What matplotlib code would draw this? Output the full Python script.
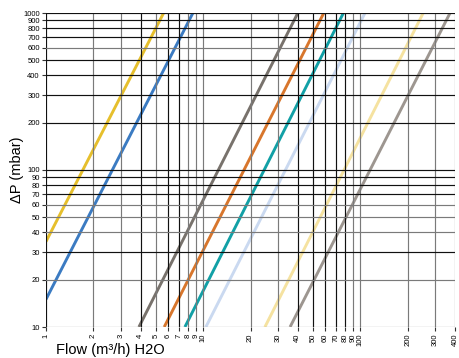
import matplotlib
matplotlib.use('Agg')
import matplotlib.pyplot as plt
from matplotlib.ticker import FixedLocator, NullLocator

plt.rcParams['font.family'] = ['Liberation Sans', 'DejaVu Sans']

# each curve: start point and end point (flow m3/h, dP mbar)
curve_flow = [
    [1.0, 5.6],
    [1.0, 8.6],
    [3.9, 40.0],
    [5.65, 58.5],
    [7.65, 78.0],
    [10.4, 107.0],
    [24.7, 251.0],
    [35.7, 372.0],
]
curve_dp = [
    [35, 1000],
    [15, 1000],
    [10, 1000],
    [10, 1000],
    [10, 1000],
    [10, 1000],
    [10, 1000],
    [10, 1000],
]
curve_colors = ['#e6bf2c', '#3b7bc2', '#78726c', '#d8762c', '#12a0a6',
                '#cad9f0', '#f5e2a0', '#9d9690']

x_ticks = [1, 2, 3, 4, 5, 6, 7, 8, 9, 10, 20, 30, 40, 50, 60, 70, 80, 90,
           100, 200, 300, 400]
y_ticks = [10, 20, 30, 40, 50, 60, 70, 80, 90, 100, 200, 300, 400, 500,
           600, 700, 800, 900, 1000]
x_gray = {2, 3, 5, 8, 9, 10, 20, 30, 90, 100, 200, 300, 400}
y_gray = {10, 20, 40, 50, 60, 600}

fig = plt.figure(figsize=(4.59, 3.58), dpi=100)
ax = fig.add_axes([46 / 459, 1 - 327 / 358, 409 / 459, 314 / 358])

for xs, ys, c in zip(curve_flow, curve_dp, curve_colors):
    ax.plot(xs, ys, color=c, lw=2.1, solid_capstyle='butt', zorder=1)

# grid drawn above the curves, as in the original
for x in x_ticks:
    ax.axvline(x, color='#7a7a7a' if x in x_gray else '#111111', lw=0.85, zorder=2)
for y in y_ticks:
    ax.axhline(y, color='#7a7a7a' if y in y_gray else '#111111', lw=0.85, zorder=2)

ax.set_xscale('log')
ax.set_yscale('log')
ax.set_xlim(1, 400)
ax.set_ylim(10, 1000)
ax.xaxis.set_major_locator(FixedLocator(x_ticks))
ax.yaxis.set_major_locator(FixedLocator(y_ticks))
ax.xaxis.set_minor_locator(NullLocator())
ax.yaxis.set_minor_locator(NullLocator())
ax.set_xticklabels([str(v) for v in x_ticks], rotation=90, fontsize=5.5)
ax.set_yticklabels([str(v) for v in y_ticks], fontsize=5.5)
ax.tick_params(length=3, width=0.8, color='#333333', pad=1.5)
for s in ax.spines.values():
    s.set_visible(False)

fig.text(17 / 459, 1 - 170 / 358, 'ΔP (mbar)', rotation=90, fontsize=10.5,
         ha='center', va='center')
fig.text(110 / 459, 1 - 350 / 358, 'Flow (m³/h) H2O', fontsize=10.5,
         ha='center', va='center')

fig.savefig('out.png', dpi=100)
